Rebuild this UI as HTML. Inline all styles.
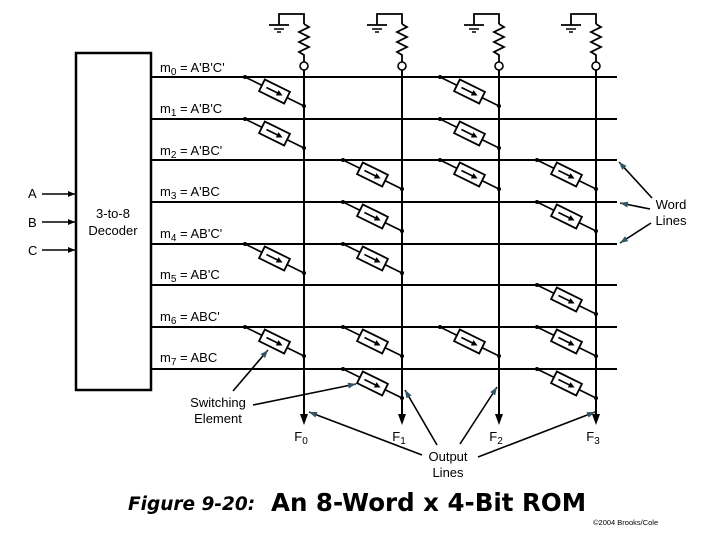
<!DOCTYPE html>
<html><head><style>
body{margin:0;background:#fff;}
svg{display:block;font-family:"Liberation Sans",Arial,sans-serif;}
</style></head><body>
<svg width="720" height="540" viewBox="0 0 720 540" xmlns="http://www.w3.org/2000/svg">
<defs>
<marker id="ah" markerWidth="8" markerHeight="8" refX="7" refY="4" orient="auto" markerUnits="userSpaceOnUse">
<path d="M0,1 L7,4 L0,7 Z" fill="#000"/></marker>
<marker id="ag" markerWidth="9" markerHeight="8" refX="8" refY="4" orient="auto" markerUnits="userSpaceOnUse">
<path d="M0,1 L8,4 L0,7 Z" fill="#356"/></marker>
<g id="sw">
<line x1="0" y1="0" x2="59" y2="29" stroke="#000" stroke-width="1.6"/>
<circle cx="0" cy="0" r="2" fill="#000"/><circle cx="59" cy="29" r="2" fill="#000"/>
<g transform="translate(29.5,14.5) rotate(26.2)">
<rect x="-14" y="-6.5" width="28" height="13" fill="#fff" stroke="#000" stroke-width="1.8"/>
<line x1="-9" y1="0" x2="6" y2="0" stroke="#000" stroke-width="1.6"/>
<path d="M9,0 L3,-3 L3,3 Z" fill="#000"/>
</g>
</g>
<g id="top">
<polyline points="0,24 0,14 -25,14 -25,25" fill="none" stroke="#000" stroke-width="1.8"/>
<line x1="-35" y1="25" x2="-15" y2="25" stroke="#000" stroke-width="1.8"/>
<line x1="-30" y1="29" x2="-20" y2="29" stroke="#000" stroke-width="1.5"/>
<line x1="-27" y1="32" x2="-23" y2="32" stroke="#000" stroke-width="1.5"/>
<polyline points="0,24 5,27 -5,32 5,37 -5,42 5,47 -5,52 0,55 0,62" fill="none" stroke="#000" stroke-width="1.8"/>
<circle cx="0" cy="66" r="4" fill="#fff" stroke="#000" stroke-width="1.6"/>
<line x1="0" y1="70" x2="0" y2="416" stroke="#000" stroke-width="2"/>
<path d="M-4,414 L0,425 L4,414 Z" fill="#000"/>
</g>
</defs>

<rect x="76" y="53" width="75" height="337" fill="#fff" stroke="#000" stroke-width="2.5"/>
<text x="113" y="218" font-size="13" text-anchor="middle">3-to-8</text>
<text x="113" y="235" font-size="13" text-anchor="middle">Decoder</text>
<g font-size="13">
<text x="28" y="198">A</text><text x="28" y="227">B</text><text x="28" y="255">C</text>
</g>
<g stroke="#000" stroke-width="1.6" marker-end="url(#ah)">
<line x1="42" y1="194" x2="75" y2="194"/>
<line x1="42" y1="222" x2="75" y2="222"/>
<line x1="42" y1="250" x2="75" y2="250"/>
</g>

<g stroke="#000" stroke-width="2">
<line x1="151" y1="77" x2="617" y2="77"/>
<line x1="151" y1="119" x2="617" y2="119"/>
<line x1="151" y1="160" x2="617" y2="160"/>
<line x1="151" y1="202" x2="617" y2="202"/>
<line x1="151" y1="244" x2="617" y2="244"/>
<line x1="151" y1="285" x2="617" y2="285"/>
<line x1="151" y1="327" x2="617" y2="327"/>
<line x1="151" y1="369" x2="617" y2="369"/>
</g>
<g font-size="13">
<text x="160" y="72">m<tspan font-size="10" dy="3">0</tspan><tspan dy="-3"> = A'B'C'</tspan></text>
<text x="160" y="113">m<tspan font-size="10" dy="3">1</tspan><tspan dy="-3"> = A'B'C</tspan></text>
<text x="160" y="155">m<tspan font-size="10" dy="3">2</tspan><tspan dy="-3"> = A'BC'</tspan></text>
<text x="160" y="196">m<tspan font-size="10" dy="3">3</tspan><tspan dy="-3"> = A'BC</tspan></text>
<text x="160" y="238">m<tspan font-size="10" dy="3">4</tspan><tspan dy="-3"> = AB'C'</tspan></text>
<text x="160" y="279">m<tspan font-size="10" dy="3">5</tspan><tspan dy="-3"> = AB'C</tspan></text>
<text x="160" y="321">m<tspan font-size="10" dy="3">6</tspan><tspan dy="-3"> = ABC'</tspan></text>
<text x="160" y="362">m<tspan font-size="10" dy="3">7</tspan><tspan dy="-3"> = ABC</tspan></text>
</g>

<use href="#top" x="304" y="0"/>
<use href="#top" x="402" y="0"/>
<use href="#top" x="499" y="0"/>
<use href="#top" x="596" y="0"/>

<use href="#sw" x="245" y="77"/><use href="#sw" x="440" y="77"/>
<use href="#sw" x="245" y="119"/><use href="#sw" x="440" y="119"/>
<use href="#sw" x="343" y="160"/><use href="#sw" x="440" y="160"/><use href="#sw" x="537" y="160"/>
<use href="#sw" x="343" y="202"/><use href="#sw" x="537" y="202"/>
<use href="#sw" x="245" y="244"/><use href="#sw" x="343" y="244"/>
<use href="#sw" x="537" y="285"/>
<use href="#sw" x="245" y="327"/><use href="#sw" x="343" y="327"/><use href="#sw" x="440" y="327"/><use href="#sw" x="537" y="327"/>
<use href="#sw" x="343" y="369"/><use href="#sw" x="537" y="369"/>

<g font-size="13" text-anchor="middle">
<text x="301" y="441">F<tspan font-size="10" dy="3">0</tspan></text>
<text x="399" y="441">F<tspan font-size="10" dy="3">1</tspan></text>
<text x="496" y="441">F<tspan font-size="10" dy="3">2</tspan></text>
<text x="593" y="441">F<tspan font-size="10" dy="3">3</tspan></text>
<text x="448" y="461">Output</text><text x="448" y="477">Lines</text>
<text x="218" y="407">Switching</text><text x="218" y="423">Element</text>
<text x="671" y="209">Word</text><text x="671" y="225">Lines</text>
</g>

<g stroke="#000" stroke-width="1.6" marker-end="url(#ag)">
<line x1="422" y1="455" x2="309" y2="412"/>
<line x1="437" y1="445" x2="405" y2="390"/>
<line x1="460" y1="444" x2="497" y2="387"/>
<line x1="478" y1="457" x2="595" y2="412"/>
<line x1="233" y1="391" x2="268" y2="350"/>
<line x1="253" y1="405" x2="356" y2="384"/>
<line x1="652" y1="198" x2="619" y2="162"/>
<line x1="650" y1="209" x2="620" y2="203"/>
<line x1="651" y1="223" x2="620" y2="243"/>
</g>

<text x="128" y="510" font-size="18.5" font-style="italic" font-weight="bold" font-family="DejaVu Sans, sans-serif">Figure 9-20:</text>
<text x="271" y="511" font-size="24.5" font-weight="bold" font-family="DejaVu Sans, sans-serif">An 8-Word x 4-Bit ROM</text>
<text x="593" y="525" font-size="7.5">©2004 Brooks/Cole</text>
</svg>
</body></html>
